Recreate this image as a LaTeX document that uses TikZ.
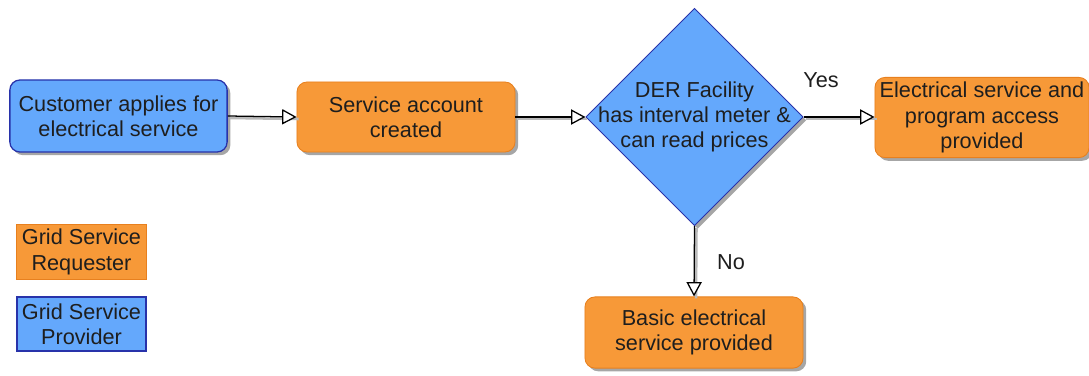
\documentclass[tikz,border=0pt]{standalone}
\usepackage{fontspec}
\setmainfont{Liberation Sans}
\usepackage{xcolor}
\usetikzlibrary{
	arrows.meta,
	shapes.geometric,
	shadows,
	positioning
}
\definecolor{provblue}{RGB}{100,168,252}
\definecolor{provedge}{RGB}{40,50,170}
\definecolor{reqorange}{RGB}{247,153,56}
\definecolor{reqedge}{RGB}{232,128,30}
\definecolor{txtdark}{RGB}{30,30,30}

\begin{document}
\begin{tikzpicture}[x=0.025cm,y=-0.025cm,
		every node/.style={font=\fontsize{15.4}{18}\selectfont,text=txtdark,align=center,inner xsep=1pt},
		boxshadow/.style={drop shadow={shadow xshift=0.08cm,shadow yshift=-0.08cm,fill=gray!70,opacity=1}},
		provbox/.style={draw=provedge,fill=provblue,line width=0.9pt,rounded corners=0.25cm,boxshadow},
		reqbox/.style={draw=reqedge,fill=reqorange,line width=0.6pt,rounded corners=0.25cm,boxshadow},
		flow/.style={draw=black,line width=0.9pt,
			-{Triangle[open,length=0.36cm,width=0.38cm,fill=white]},
			preaction={draw=gray!55,line width=1.8pt,transform canvas={xshift=0.05cm,yshift=-0.05cm},-}}]
		\useasboundingbox (0,0) rectangle (1089,375);
		
		% Knoten
		\node[provbox,minimum width=5.43cm,minimum height=1.8cm] (cust) at (118.5,116) {Customer applies for\\electrical service};
		\node[reqbox,minimum width=5.45cm,minimum height=1.75cm] (acct) at (406,117) {Service account\\created};
		\node[diamond,draw=provedge,fill=provblue,line width=0.6pt,minimum width=5.43cm,minimum height=5.43cm,inner sep=0pt,boxshadow] (der) at (694.5,117) {};
		\node (dertxt) at (der.center) {DER Facility\\has interval meter \&\\can read prices};
		\node[reqbox,minimum width=5.35cm,minimum height=1.88cm] (full) at (982,117.5) {Electrical service and\\program access\\provided};
		\node[reqbox,minimum width=5.45cm,minimum height=1.78cm] (basic) at (694,332.5) {Basic electrical\\service provided};
		
		% Legende
		\node[draw=reqedge,fill=reqorange,line width=0.6pt,minimum width=3.23cm,minimum height=1.35cm] (legreq) at (81.5,252) {Grid Service\\Requester};
		\node[draw=provedge,fill=provblue,line width=0.9pt,minimum width=3.23cm,minimum height=1.35cm] (legprov) at (81.5,324) {Grid Service\\Provider};
		
		% Pfeile
		\draw[flow] (cust.east) -- (acct.west);
		\draw[flow] (acct.east) -- (der.west);
		\draw[flow] (der.east) -- (full.west |- der.east);
		\draw[flow] (der.south) -- (basic.north);
		\node (yes) at (821,80) {Yes};
		\node (no) at (731,262) {No};
	\end{tikzpicture}
\end{document}
